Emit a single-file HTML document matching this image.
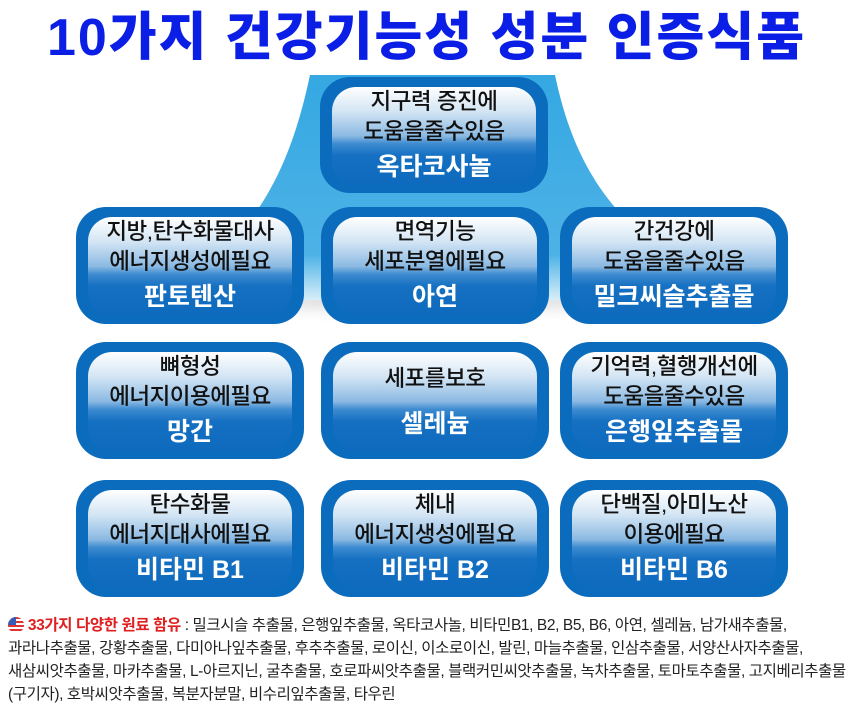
<!DOCTYPE html>
<html><head><meta charset="utf-8"><style>
body{margin:0;width:853px;height:708px;background:#fff;position:relative;overflow:hidden;font-family:"Liberation Sans","Noto Sans CJK KR",sans-serif}
.title{position:absolute;left:0;top:2px;width:853px;text-align:center;font-size:52px;font-weight:900;color:#0a1ee6;letter-spacing:2px;line-height:72px}
.box{position:absolute;width:228px;height:117px;background:#0b6cbd;border-radius:30px}
.in{position:absolute;left:12px;right:12px;top:10px;bottom:8px;border-radius:24px;background:linear-gradient(#ffffff 0%,#d3e5f4 25%,#8ab9e2 50%,#3d8bd0 58%,#1570c2 70%,#0e6abd 100%);text-align:center}
.t{font-size:22.5px;color:#111;line-height:30px;letter-spacing:-0.5px;font-weight:500;white-space:nowrap;margin-left:-10px;margin-right:-10px}
.b{font-size:25px;color:#fff;font-weight:bold;line-height:32px;margin-top:4px;white-space:nowrap}
.foot{position:absolute;left:8px;top:614px;width:850px;font-size:15.5px;line-height:23px;color:#222;letter-spacing:-0.4px;white-space:nowrap}
.foot .r{color:#e02020;font-weight:bold}
.flag{display:inline-block;width:16px;height:16px;border-radius:50%;background:repeating-linear-gradient(#d33 0 2px,#fff 2px 4px);position:relative;vertical-align:-3px;overflow:hidden}
.flag:before{content:"";position:absolute;left:0;top:0;width:8px;height:8px;background:#3a5bb5}
</style></head><body>
<svg width="853" height="708" style="position:absolute;left:0;top:0">
<defs>
<linearGradient id="m" x1="0" y1="0" x2="0" y2="1"><stop offset="0" stop-color="#35a8e2"/><stop offset="0.8" stop-color="#4db2e6"/><stop offset="1" stop-color="#d8eef9"/></linearGradient>
<radialGradient id="s" cx="0.5" cy="0.5" r="0.5"><stop offset="0" stop-color="#c9c9c9"/><stop offset="1" stop-color="#fff" stop-opacity="0"/></radialGradient>
</defs>
<ellipse cx="430" cy="300" rx="400" ry="25" fill="url(#s)"/>
<path d="M140 300 C250 260 290 170 310 75 L555 75 C575 170 620 250 760 300 Z" fill="url(#m)"/>
</svg>
<div class="title">10가지 건강기능성 성분 인증식품</div>

<div class="box" style="left:320px;top:77px;height:116px"><div class="in"><div class="t">지구력 증진에<br>도움을줄수있음</div><div class="b">옥타코사놀</div></div></div>

<div class="box" style="left:76px;top:207px"><div class="in"><div class="t">지방,탄수화물대사<br>에너지생성에필요</div><div class="b">판토텐산</div></div></div>
<div class="box" style="left:321px;top:207px"><div class="in"><div class="t">면역기능<br>세포분열에필요</div><div class="b">아연</div></div></div>
<div class="box" style="left:560px;top:207px"><div class="in"><div class="t">간건강에<br>도움을줄수있음</div><div class="b">밀크씨슬추출물</div></div></div>

<div class="box" style="left:76px;top:342px"><div class="in"><div class="t">뼈형성<br>에너지이용에필요</div><div class="b">망간</div></div></div>
<div class="box" style="left:321px;top:342px"><div class="in"><div class="t" style="margin-top:12px">세포를보호</div><div class="b" style="margin-top:14px">셀레늄</div></div></div>
<div class="box" style="left:560px;top:342px"><div class="in"><div class="t">기억력,혈행개선에<br>도움을줄수있음</div><div class="b">은행잎추출물</div></div></div>

<div class="box" style="left:76px;top:480px"><div class="in"><div class="t">탄수화물<br>에너지대사에필요</div><div class="b">비타민 B1</div></div></div>
<div class="box" style="left:321px;top:480px"><div class="in"><div class="t">체내<br>에너지생성에필요</div><div class="b">비타민 B2</div></div></div>
<div class="box" style="left:560px;top:480px"><div class="in"><div class="t">단백질,아미노산<br>이용에필요</div><div class="b">비타민 B6</div></div></div>

<div class="foot"><span class="flag"></span> <span class="r">33가지 다양한 원료 함유</span> : 밀크시슬 추출물, 은행잎추출물, 옥타코사놀, 비타민B1, B2, B5, B6, 아연, 셀레늄, 남가새추출물,<br>과라나추출물, 강황추출물, 다미아나잎추출물, 후추추출물, 로이신, 이소로이신, 발린, 마늘추출물, 인삼추출물, 서양산사자추출물,<br>새삼씨앗추출물, 마카추출물, L-아르지닌, 굴추출물, 호로파씨앗추출물, 블랙커민씨앗추출물, 녹차추출물, 토마토추출물, 고지베리추출물<br>(구기자), 호박씨앗추출물, 복분자분말, 비수리잎추출물, 타우린</div>
</body></html>
